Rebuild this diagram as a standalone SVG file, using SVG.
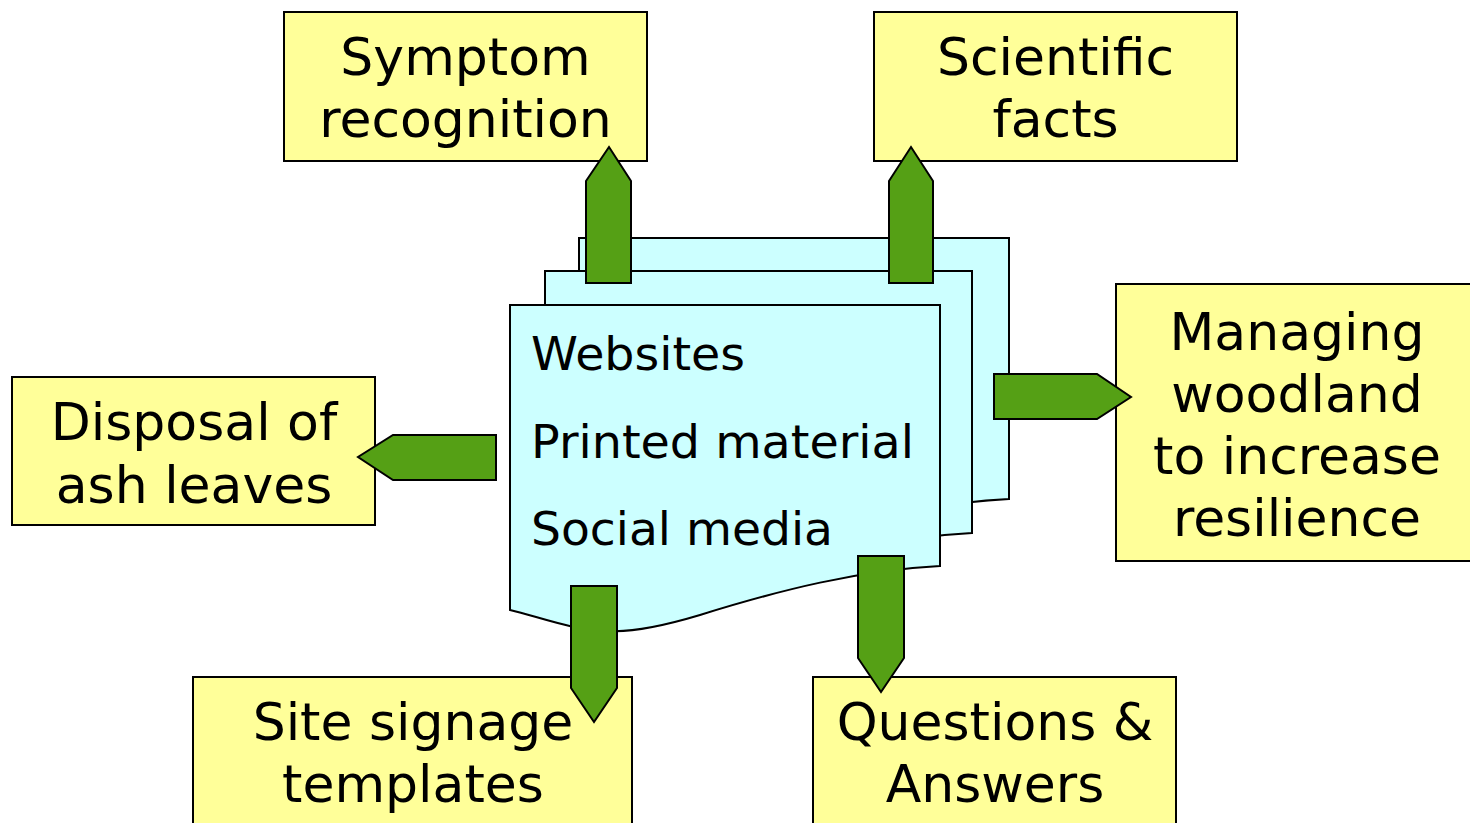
<svg xmlns="http://www.w3.org/2000/svg" width="1470" height="823" viewBox="0 0 1470 823">
<style>
.box{fill:#FFFF99;stroke:#000;stroke-width:2}
.page{fill:#CCFFFF;stroke:#000;stroke-width:2}
.arr{fill:#55A015;stroke:#000;stroke-width:2;stroke-linejoin:miter}
.t{font-family:"DejaVu Sans","Verdana",sans-serif;font-size:52px;fill:#000;text-anchor:middle}
.d{font-family:"DejaVu Sans","Verdana",sans-serif;font-size:46px;fill:#000}
</style>
<rect width="1470" height="823" fill="#fff"/>
<g id="documents">
<path class="page" d="M579,238 H1009 V499 C929,503 849,523 769,548 C729,560 699,565 679,564 C639,563 609,550 579,543 Z"/>
<path class="page" d="M545,271 H972 V533 C892,537 812,557 732,582 C692,594 662,599 642,598 C602,597 575,584 545,577 Z"/>
<path class="page" d="M510,305 H940 V566 C860,570 780,590 700,615 C660,627 630,632 610,631 C570,630 540,617 510,610 Z"/>
<text class="d" x="531" y="370" textLength="214" lengthAdjust="spacingAndGlyphs">Websites</text>
<text class="d" x="531" y="458" textLength="383" lengthAdjust="spacingAndGlyphs">Printed material</text>
<text class="d" x="531" y="545" textLength="302" lengthAdjust="spacingAndGlyphs">Social media</text>
</g>
<g id="symptom">
<rect class="box" x="284" y="12" width="363" height="149"/>
<text class="t" x="465.5" y="75">Symptom</text>
<text class="t" x="465.5" y="137">recognition</text>
</g>
<g id="scientific">
<rect class="box" x="874" y="12" width="363" height="149"/>
<text class="t" x="1055.5" y="75">Scientific</text>
<text class="t" x="1055.5" y="137">facts</text>
</g>
<g id="managing">
<rect class="box" x="1116" y="284" width="370" height="277"/>
<text class="t" x="1297" y="350">Managing</text>
<text class="t" x="1297" y="412">woodland</text>
<text class="t" x="1297" y="474">to increase</text>
<text class="t" x="1297" y="536">resilience</text>
</g>
<g id="disposal">
<rect class="box" x="12" y="377" width="363" height="148"/>
<text class="t" x="194" y="440">Disposal of</text>
<text class="t" x="194" y="503">ash leaves</text>
</g>
<g id="signage">
<rect class="box" x="193" y="677" width="439" height="160"/>
<text class="t" x="413" y="740">Site signage</text>
<text class="t" x="413" y="802">templates</text>
</g>
<g id="qa">
<rect class="box" x="813" y="677" width="363" height="160"/>
<text class="t" x="995" y="740">Questions &amp;</text>
<text class="t" x="995" y="802">Answers</text>
</g>
<g id="connectors">
<polygon class="arr" points="586,283 586,181 609,147 631,181 631,283"/>
<polygon class="arr" points="889,283 889,181 911,147 933,181 933,283"/>
<polygon class="arr" points="994,374 1097,374 1131,397 1097,419 994,419"/>
<polygon class="arr" points="496,435 393,435 358,457 393,480 496,480"/>
<polygon class="arr" points="571,586 617,586 617,688 594,722 571,688"/>
<polygon class="arr" points="858,556 904,556 904,658 881,692 858,658"/>
</g>
</svg>
